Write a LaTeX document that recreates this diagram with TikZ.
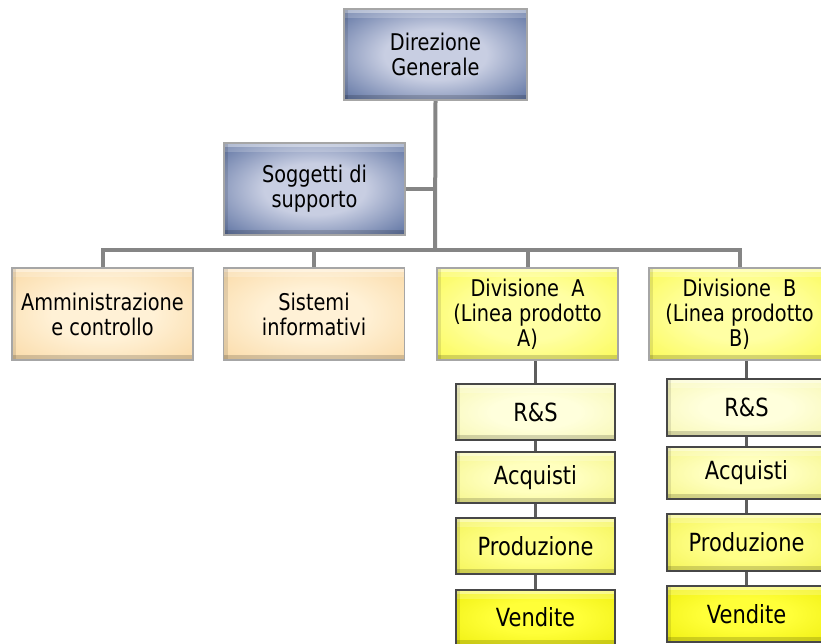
\documentclass[tikz,border=0pt]{standalone}
\usepackage{fontspec}
% narrow, tall sans lettering
\setmainfont{DejaVu Sans}[FakeStretch=0.84]
\usetikzlibrary{backgrounds}

% soft glow: light centre, stronger colour towards the edges
\pgfdeclareradialshading[bxin,bxout]{boxglow}{\pgfpoint{0bp}{0bp}}{%
  color(0bp)=(bxin); color(14bp)=(bxin);
  color(46bp)=(bxout); color(75bp)=(bxout!85!black)}

\definecolor{bluein}{HTML}{C8CEE2}
\definecolor{blueout}{HTML}{2A4682}
\definecolor{peachin}{HTML}{FFF1D6}
\definecolor{peachout}{HTML}{F8D092}
\definecolor{divin}{HTML}{FFFFA4}
\definecolor{divout}{HTML}{F9F934}
\definecolor{rsin}{HTML}{FFFFDC}
\definecolor{rsout}{HTML}{F4F4A2}
\definecolor{acqin}{HTML}{FFFFBE}
\definecolor{acqout}{HTML}{F1F174}
\definecolor{prodin}{HTML}{FFFF88}
\definecolor{prodout}{HTML}{EEEE40}
\definecolor{venin}{HTML}{FFFF38}
\definecolor{venout}{HTML}{E8E800}
\definecolor{linkgray}{HTML}{858585}
\definecolor{stemgray}{HTML}{5E5E5E}

\tikzset{
  unitbox/.style={shading=boxglow, align=center, inner sep=0pt, text=black,
    path picture={
      % bevel: light top, darker left and bottom
      \fill[white,opacity=0.5] (path picture bounding box.north west)
        rectangle ([yshift=-4pt]path picture bounding box.north east);
      \fill[white,opacity=0.2] ([yshift=-4pt]path picture bounding box.north west)
        rectangle ([yshift=-9pt]path picture bounding box.north east);
      \fill[black,opacity=0.10] (path picture bounding box.north west)
        rectangle ([xshift=4pt]path picture bounding box.south west);
      \fill[black,opacity=0.16] (path picture bounding box.south west)
        rectangle ([yshift=5pt]path picture bounding box.south east);
    }},
  bigbox/.style={unitbox, draw=black!35, line width=1.6pt,
    minimum width=181pt, minimum height=92pt,
    font=\fontsize{23}{25}\selectfont},
  smallbox/.style={unitbox, draw=black!72, line width=1.6pt,
    minimum width=159pt, font=\fontsize{25}{28}\selectfont},
  tone/.style n args={2}{/utils/exec={\colorlet{bxin}{#1}\colorlet{bxout}{#2}}},
  bluebox/.style={bigbox, tone={bluein}{blueout}},
  peachbox/.style={bigbox, tone={peachin}{peachout}},
  divbox/.style={bigbox, tone={divin}{divout}},
  trunk/.style={draw=linkgray, line width=4pt},
  stem/.style={draw=stemgray, line width=2.5pt},
}

\begin{document}
\begin{tikzpicture}[x=1pt, y=-1pt]
\useasboundingbox (0,0) rectangle (821,643);

% top management and staff
\node[bluebox, minimum width=183pt, minimum height=91pt] (dir) at (435.5,54.5) {Direzione\\Generale};
\node[bluebox] (sog) at (314.5,189) {Soggetti di\\supporto};

% first level units
\node[peachbox] (amm) at (102.5,314) {Amministrazione\\e controllo};
\node[peachbox] (sis) at (314,314) {Sistemi\\informativi};
\node[divbox] (divA) at (527.5,314) {Divisione~~A\\(Linea prodotto\\A)};
\node[divbox] (divB) at (739.5,314) {Divisione~~B\\(Linea prodotto\\B)};

% functions of division A
\node[smallbox, minimum height=56pt, tone={rsin}{rsout}] (rsA) at (535.5,412) {R\&S};
\node[smallbox, minimum height=51pt, tone={acqin}{acqout}] (acqA) at (535.5,477.5) {Acquisti};
\node[smallbox, minimum height=56pt, tone={prodin}{prodout}] (prodA) at (535.5,546) {Produzione};
\node[smallbox, minimum height=55pt, tone={venin}{venout}] (venA) at (535.5,617.5) {Vendite};

% functions of division B
\node[smallbox, minimum height=57pt, tone={rsin}{rsout}] (rsB) at (746.5,407.5) {R\&S};
\node[smallbox, minimum height=52pt, tone={acqin}{acqout}] (acqB) at (746.5,473) {Acquisti};
\node[smallbox, minimum height=57pt, tone={prodin}{prodout}] (prodB) at (746.5,542.5) {Produzione};
\node[smallbox, minimum height=56pt, tone={venin}{venout}] (venB) at (746.5,614) {Vendite};

\coordinate (bus) at (435,250);

\begin{pgfonlayer}{background}
  % reporting lines
  \draw[trunk] (dir.south) -- (bus);
  \draw[trunk] (sog.east) -- (sog.east -| bus);
  \draw[trunk] (amm.north) |- (bus) -| (divB.north);
  \draw[trunk] (sis.north) -- (sis.north |- bus);
  \draw[trunk] (divA.north) -- (divA.north |- bus);
  % chains inside the divisions
  \draw[stem] (divA.south -| rsA) -- (venA.center);
  \draw[stem] (divB.south -| rsB) -- (venB.center);
\end{pgfonlayer}
\end{tikzpicture}
\end{document}
